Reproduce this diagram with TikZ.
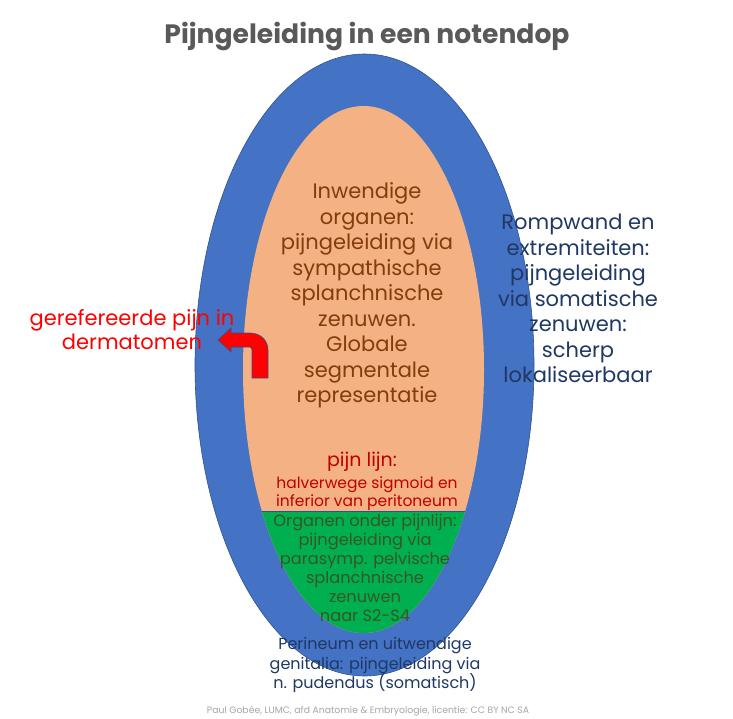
\documentclass[tikz,border=0pt]{standalone}
\usepackage{fontspec}
\setmainfont{Poppins}
\definecolor{outerblue}{HTML}{4472C4}
\definecolor{edgeblue}{HTML}{2F528F}
\definecolor{innerorange}{HTML}{F4B183}
\definecolor{pelvgreen}{HTML}{00B050}
\definecolor{brownt}{HTML}{843C0C}
\definecolor{navyt}{HTML}{1F3864}
\definecolor{greent}{HTML}{385723}
\definecolor{darkred}{HTML}{C00000}
\definecolor{titlegray}{HTML}{595959}
\definecolor{footgray}{HTML}{A6A6A6}
\tikzset{
  txt/.style={align=center, inner sep=0pt},
  outerell/.style={fill=outerblue, draw=edgeblue, line width=0.6pt},
  innerell/.style={fill=innerorange},
  redarrow/.style={fill=red, draw=edgeblue, line width=0.6pt, line join=miter}
}
\begin{document}
\begin{tikzpicture}[x=1pt,y=-1pt]
\useasboundingbox[fill=white] (0,0) rectangle (733,718);
% ellipses
\path[outerell] (364.5,365) ellipse [x radius=169.5, y radius=311];
\path[innerell] (363.5,369.5) ellipse [x radius=120.5, y radius=263.5];
\begin{scope}
  \clip (0,511) rectangle (733,718);
  \fill[pelvgreen] (363.5,369.5) ellipse [x radius=120.5, y radius=263.5];
\end{scope}
\coordinate (gl) at (261.85,511);
\coordinate (gr) at (465.15,511);
\draw[edgeblue, line width=0.6pt] (gl) -- (gr);
% red bent arrow
\path[redarrow] (268,378) -- (268,350) .. controls (268,340) and (260,333) .. (250,333)
  -- (231,333) -- (231,328) -- (218,340) -- (231,352) -- (231,347) -- (250,347)
  .. controls (251.1,347) and (252,348.9) .. (252,350) -- (252,378) -- cycle;
% title
\node[txt, text=titlegray, font=\fontsize{26.6}{30}\selectfont\bfseries] (title) at (367,37) {Pijngeleiding in een notendop};
% texts
\node[txt, text=brownt, font=\fontsize{21}{25.5}\selectfont] (inw) at (367,295.5)
  {Inwendige\\organen:\\pijngeleiding via\\sympathische\\splanchnische\\zenuwen.\\Globale\\segmentale\\representatie};
\node[txt, text=navyt, font=\fontsize{21}{25.5}\selectfont] (romp) at (578,298.5)
  {Rompwand en\\extremiteiten:\\pijngeleiding\\via somatische\\zenuwen:\\scherp\\lokaliseerbaar};
\node[txt, text=red, font=\fontsize{21}{24}\selectfont] (ref) at (132,330)
  {gerefereerde pijn in\\dermatomen};
\node[txt, text=darkred, font=\fontsize{19}{24}\selectfont] (pl) at (362,462) {pijn lijn:};
\node[txt, text=darkred, font=\fontsize{15.5}{17.5}\selectfont] (half) at (367,493.5)
  {halverwege sigmoid en\\inferior van peritoneum};
\node[txt, text=greent, font=\fontsize{16.2}{19}\selectfont] (grn) at (365,567.5)
  {Organen onder pijnlijn:\\pijngeleiding via\\parasymp. pelvische\\splanchnische\\zenuwen\\naar S2-S4};
\node[txt, text=navyt, font=\fontsize{16}{19.5}\selectfont] (per) at (375,665)
  {Perineum en uitwendige\\genitalia: pijngeleiding via\\n. pudendus (somatisch)};
\node[txt, text=footgray, font=\fontsize{9.3}{11}\selectfont] (foot) at (368,711)
  {Paul Gobée, LUMC, afd Anatomie \& Embryologie, licentie: CC BY NC SA};
\end{tikzpicture}
\end{document}
